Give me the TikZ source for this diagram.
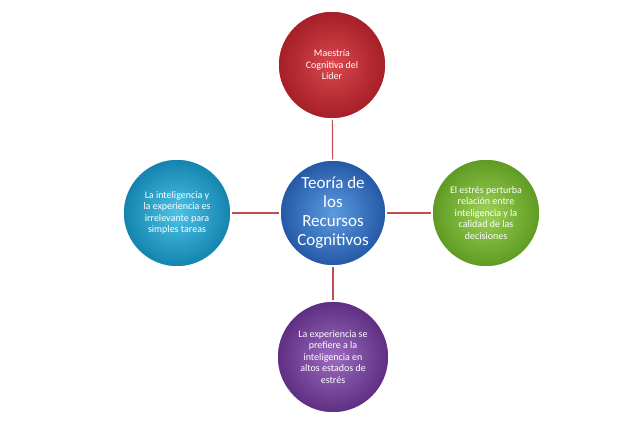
\documentclass[tikz,border=0pt]{standalone}
\usepackage{fontspec}
\setmainfont{Carlito}
\usetikzlibrary{shadings}
\definecolor{rin}{HTML}{D9474D}\definecolor{rout}{HTML}{A51E27}
\definecolor{cin}{HTML}{4CC3E6}\definecolor{cout}{HTML}{1383AE}
\definecolor{gin}{HTML}{9CD156}\definecolor{gout}{HTML}{5E9A22}
\definecolor{pin}{HTML}{9B6BBE}\definecolor{pout}{HTML}{5E2E82}
\definecolor{bin}{HTML}{5C9BE0}\definecolor{bout}{HTML}{2458A6}
\definecolor{lk}{HTML}{C0504D}
\begin{document}
\begin{tikzpicture}[x=1pt,y=-1pt,
  circ/.style={circle,draw=white,line width=1.5pt,text=white,align=center,inner sep=0pt,font=\fontsize{10}{11.5}\selectfont},
  link/.style={draw=lk,line width=1.2pt}]
\useasboundingbox (0,0) rectangle (640,444);
\fill[white] (0,0) rectangle (640,444);
\node[circ,minimum size=108pt,inner color=rin,outer color=rout] (top) at (332,65) {Maestría\\Cognitiva del\\Líder};
\node[circ,minimum size=108pt,inner color=cin,outer color=cout] (left) at (177,213) {La inteligencia y\\la experiencia es\\irrelevante para\\simples tareas};
\node[circ,minimum size=108pt,inner color=gin,outer color=gout] (right) at (486,213) {El estrés perturba\\relación entre\\inteligencia y la\\calidad de las\\decisiones};
\node[circ,minimum size=112pt,inner color=pin,outer color=pout] (bottom) at (333,357) {La experiencia se\\prefiere a la\\inteligencia en\\altos estados de\\estrés};
\node[circ,minimum size=106pt,inner color=bin,outer color=bout,font=\fontsize{17}{19}\selectfont] (center) at (333,213) {Teoría de\\los\\Recursos\\Cognitivos};
\draw[link] (center) -- (top);
\draw[link] (center) -- (left);
\draw[link] (center) -- (right);
\draw[link] (center) -- (bottom);
\end{tikzpicture}
\end{document}
